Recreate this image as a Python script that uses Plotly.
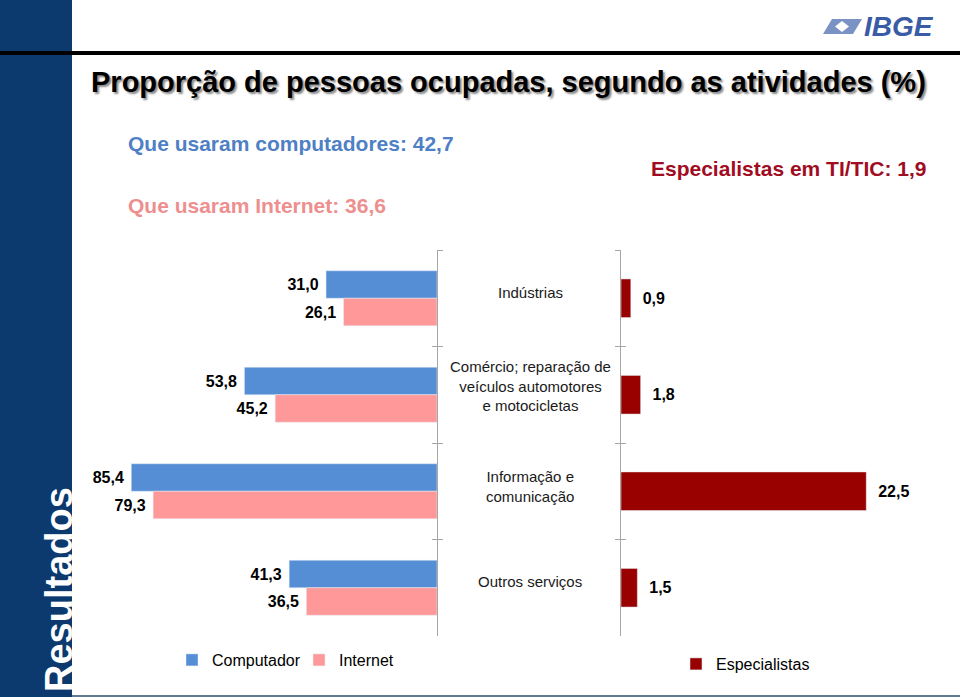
import plotly.graph_objects as go

# ---------------- data ----------------
categories = [
    "Indústrias",
    "Comércio; reparação de<br>veículos automotores<br>e motocicletas",
    "Informação e<br>comunicação",
    "Outros serviços",
]
computador = [31.0, 53.8, 85.4, 41.3]
internet = [26.1, 45.2, 79.3, 36.5]
especialistas = [0.9, 1.8, 22.5, 1.5]

total_computador = 42.7
total_internet = 36.6
total_especialistas = 1.9

title_text = "Proporção de pessoas ocupadas, segundo as atividades (%)"


def br(v):
    return f"{v:.1f}".replace(".", ",")


NB = "\u00a0"

# ---------------- styles ----------------
W, H = 960, 697
FONT = "Liberation Sans, Arial, sans-serif"
C_COMP = "#558ed5"
C_INT = "#ff9999"
C_ESP = "#990000"
AXIS_GRAY = "#a6a6a6"
NAVY = "#0c3a6e"


def px_x(x):
    return x / W


def px_y(y):
    return 1 - y / H


fig = go.Figure()

label_font = dict(family=FONT, size=16, color="#000000", weight="bold")

fig.add_trace(go.Bar(
    name="Computador", y=categories, x=computador, orientation="h",
    xaxis="x", yaxis="y", marker=dict(color=C_COMP),
    text=[br(v) + NB for v in computador], textposition="outside",
    textfont=label_font, cliponaxis=False, legend="legend",
    hoverinfo="skip",
))
fig.add_trace(go.Bar(
    name="Internet", y=categories, x=internet, orientation="h",
    xaxis="x", yaxis="y", marker=dict(color=C_INT),
    text=[br(v) + NB for v in internet], textposition="outside",
    textfont=label_font, cliponaxis=False, legend="legend",
    hoverinfo="skip",
))
fig.add_trace(go.Bar(
    name="Especialistas", y=categories, x=especialistas, orientation="h",
    xaxis="x2", yaxis="y2", marker=dict(color=C_ESP), width=0.40,
    text=[NB * 2 + br(v) for v in especialistas], textposition="outside",
    textfont=label_font, cliponaxis=False, legend="legend2",
    hoverinfo="skip",
))
# helper (invisible) traces so overlay axes can draw crossing ticks
fig.add_trace(go.Scatter(
    y=categories, x=[0] * len(categories), xaxis="x", yaxis="y3",
    mode="markers", marker=dict(opacity=0), showlegend=False, hoverinfo="skip",
))
fig.add_trace(go.Scatter(
    y=categories, x=[0] * len(categories), xaxis="x2", yaxis="y4",
    mode="markers", marker=dict(opacity=0), showlegend=False, hoverinfo="skip",
))

ydom = [px_y(636), px_y(250)]
yrange = [len(categories) - 0.5, -0.5]
common_y = dict(
    type="category", categoryorder="array", categoryarray=categories,
    range=yrange, showticklabels=False, showgrid=False, zeroline=False,
    tickson="boundaries", ticklen=5, tickcolor=AXIS_GRAY, tickwidth=1,
)

fig.update_layout(
    width=W, height=H,
    margin=dict(l=0, r=0, t=0, b=0),
    paper_bgcolor="white", plot_bgcolor="rgba(0,0,0,0)",
    barmode="group", bargap=0.43, bargroupgap=0,
    font=dict(family=FONT, color="#000000"),
    xaxis=dict(domain=[px_x(79), px_x(437)], range=[100, 0], visible=False,
               anchor="y"),
    yaxis=dict(domain=ydom, anchor="x", side="right", showline=True,
               linecolor=AXIS_GRAY, linewidth=1, ticks="outside", **common_y),
    yaxis3=dict(overlaying="y", anchor="x", side="right", showline=False,
                ticks="inside", **common_y),
    xaxis2=dict(domain=[px_x(621), px_x(948)], range=[0, 30], visible=False,
                anchor="y2"),
    yaxis2=dict(domain=ydom, anchor="x2", side="left", showline=True,
                linecolor=AXIS_GRAY, linewidth=1, ticks="outside", **common_y),
    yaxis4=dict(overlaying="y2", anchor="x2", side="left", showline=False,
                ticks="inside", **common_y),
    legend=dict(orientation="h", x=px_x(172), y=px_y(660), xanchor="left",
                yanchor="middle", font=dict(family=FONT, size=16, color="#000"),
                itemwidth=30, entrywidth=82, bgcolor="rgba(0,0,0,0)"),
    legend2=dict(orientation="h", x=px_x(676), y=px_y(664), xanchor="left",
                 yanchor="middle", font=dict(family=FONT, size=16, color="#000"),
                 itemwidth=30, bgcolor="rgba(0,0,0,0)"),
    showlegend=True,
)

shapes = [
    # navy sidebar
    dict(type="rect", xref="paper", yref="paper", x0=0, x1=px_x(72), y0=0, y1=1,
         fillcolor=NAVY, line=dict(width=0), layer="below"),
    # black header rule
    dict(type="line", xref="paper", yref="paper", x0=0, x1=1, y0=px_y(53), y1=px_y(53),
         line=dict(color="#000000", width=4)),
    # bottom rule
    dict(type="line", xref="paper", yref="paper", x0=px_x(72), x1=1, y0=px_y(696),
         y1=px_y(696), line=dict(color="#5f7a93", width=2)),
    # logo icon (decorative)
    dict(type="path", xref="paper", yref="paper",
         path=f"M {px_x(823)},{px_y(34)} L {px_x(832)},{px_y(19)} L {px_x(862)},{px_y(19)} "
              f"L {px_x(853)},{px_y(34)} Z",
         fillcolor="#7b93c4", line=dict(width=0)),
    dict(type="path", xref="paper", yref="paper",
         path=f"M {px_x(842)},{px_y(21)} L {px_x(849)},{px_y(26.5)} L {px_x(842)},{px_y(32)} "
              f"L {px_x(835)},{px_y(26.5)} Z",
         fillcolor="white", line=dict(width=0)),
]
fig.update_layout(shapes=shapes)

P = dict(xref="paper", yref="paper", showarrow=False)
annotations = [
    dict(text="<b>" + title_text + "</b>", x=px_x(89), y=px_y(82), xanchor="left",
         yanchor="middle", **P,
         font=dict(family=FONT, size=29, color="#000000", shadow="2px 2px 2px #8a8a8a")),
    dict(text="<b>Que usaram computadores: " + br(total_computador) + "</b>",
         x=px_x(126), y=px_y(143), xanchor="left", yanchor="middle", **P,
         font=dict(family=FONT, size=21, color="#4f7fc4")),
    dict(text="<b>Que usaram Internet: " + br(total_internet) + "</b>",
         x=px_x(126), y=px_y(205), xanchor="left", yanchor="middle", **P,
         font=dict(family=FONT, size=21, color="#ee8f8f")),
    dict(text="<b>Especialistas em TI/TIC: " + br(total_especialistas) + "</b>",
         x=px_x(928), y=px_y(169), xanchor="right", yanchor="middle", **P,
         font=dict(family=FONT, size=21, color="#a00c22")),
    dict(text="<b>Resultados</b>", x=px_x(59), y=px_y(590), xanchor="center",
         yanchor="middle", textangle=-90, **P,
         font=dict(family=FONT, size=38, color="#ffffff")),
    dict(text="<b><i>IBGE</i></b>", x=px_x(936), y=px_y(27), xanchor="right",
         yanchor="middle", **P,
         font=dict(family=FONT, size=28, color="#3a5ca6")),
]
label_shift = [6, 9, 5, 6]
for c, s in zip(categories, label_shift):
    annotations.append(dict(
        text=c, xref="paper", yref="y2", x=px_x(530), y=c, xanchor="center",
        yanchor="middle", yshift=s, showarrow=False,
        font=dict(family=FONT, size=15, color="#1a1a1a"),
    ))
fig.update_layout(annotations=annotations)

fig.write_html("out.html", config={"displayModeBar": False},
               post_script="document.body.style.margin='0';")
